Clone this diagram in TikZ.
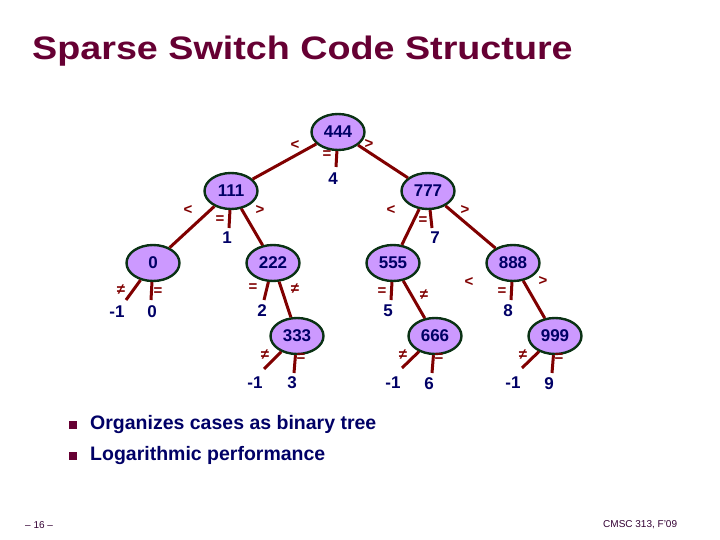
\documentclass[tikz,border=0pt]{standalone}
\usepackage{fontspec}
\setmainfont{Liberation Sans}
\newfontfamily\wf{Liberation Sans}[FakeStretch=1.16]
\usetikzlibrary{shapes.geometric}
\definecolor{titlec}{RGB}{102,0,51}
\definecolor{navy}{RGB}{0,0,102}
\definecolor{edgec}{RGB}{128,0,0}
\definecolor{nodefill}{RGB}{204,153,255}
\definecolor{nodeborder}{RGB}{10,50,20}
\definecolor{footc}{RGB}{51,0,51}
\tikzset{
  tn/.style={ellipse, draw=nodeborder, line width=2.4pt, fill=nodefill, minimum width=53pt, minimum height=36pt, inner sep=0pt, font=\bfseries\fontsize{17}{17}\selectfont, text=navy},
  edge/.style={draw=edgec, line width=3pt},
  sym/.style={text=edgec, font=\fontsize{15}{15}\selectfont\bfseries, inner sep=0pt},
  val/.style={text=navy, font=\bfseries\fontsize{17}{17}\selectfont, inner sep=0pt},
  bul/.style={fill=titlec, minimum size=8.5pt, inner sep=0pt},
  btext/.style={anchor=west, text=navy, font=\bfseries\fontsize{19.5}{20}\selectfont, inner sep=0pt},
}
\begin{document}
\begin{tikzpicture}[x=1pt,y=-1pt]
\useasboundingbox (0,0) rectangle (720,540);
\node[anchor=base west, text=titlec, font=\wf\bfseries\fontsize{32.5}{34}\selectfont, inner sep=0pt] (title) at (32,60) {Sparse Switch Code Structure};
% coordinates for free stem ends
\coordinate (s4) at (336,167);
\coordinate (s1) at (229,228);
\coordinate (s7) at (432,228);
\coordinate (s0n) at (126,300);
\coordinate (s0e) at (151,300);
\coordinate (s2) at (264,300);
\coordinate (s3n) at (264,369);
\coordinate (s3e) at (294,373);
\coordinate (s5) at (391,300);
\coordinate (s6n) at (402,368);
\coordinate (s6e) at (432,373);
\coordinate (s8) at (511,300);
\coordinate (s9n) at (522,368);
\coordinate (s9e) at (552,373);
% node centres
\path (338,132) coordinate (p444) (231,191) coordinate (p111) (428,191) coordinate (p777)
  (153,263) coordinate (p0) (273,263) coordinate (p222) (393,263) coordinate (p555)
  (513,263) coordinate (p888) (297,336) coordinate (p333) (435,336) coordinate (p666)
  (555,336) coordinate (p999);
% tree nodes
\node[tn] (n444) at (p444) {444};
\node[tn] (n111) at (p111) {111};
\node[tn] (n777) at (p777) {777};
\node[tn] (n0) at (p0) {0};
\node[tn] (n222) at (p222) {222};
\node[tn] (n555) at (p555) {555};
\node[tn] (n888) at (p888) {888};
\node[tn] (n333) at (p333) {333};
\node[tn] (n666) at (p666) {666};
\node[tn] (n999) at (p999) {999};
% edges
\draw[edge] (n444) -- (n111);
\draw[edge] (n444) -- (n777);
\draw[edge] (n111) -- (n0);
\draw[edge] (n111) -- (n222);
\draw[edge] (n777) -- (n555);
\draw[edge] (n777) -- (n888);
\draw[edge] (n222) -- (n333);
\draw[edge] (n555) -- (n666);
\draw[edge] (n888) -- (n999);
\draw[edge] (n444) -- (s4);
\draw[edge] (n111) -- (s1);
\draw[edge] (n777) -- (s7);
\draw[edge] (n0) -- (s0n);
\draw[edge] (n0) -- (s0e);
\draw[edge] (n222) -- (s2);
\draw[edge] (n333) -- (s3n);
\draw[edge] (n333) -- (s3e);
\draw[edge] (n555) -- (s5);
\draw[edge] (n666) -- (s6n);
\draw[edge] (n666) -- (s6e);
\draw[edge] (n888) -- (s8);
\draw[edge] (n999) -- (s9n);
\draw[edge] (n999) -- (s9e);
% symbol labels
\node[sym] (l444a) at (295,145) {<};
\node[sym] (l444b) at (369,144) {>};
\node[sym] (l444c) at (327,155) {=};
\node[sym] (l111a) at (188,210) {<};
\node[sym] (l111b) at (260,210) {>};
\node[sym] (l111c) at (220,220) {=};
\node[sym] (l777a) at (391,210) {<};
\node[sym] (l777b) at (465,210) {>};
\node[sym] (l777c) at (423,221) {=};
\node[sym] (l0a) at (121,290) {≠};
\node[sym] (l0b) at (158,292) {=};
\node[sym] (l222a) at (253,288) {=};
\node[sym] (l222b) at (295,289) {≠};
\node[sym] (l333a) at (265,355) {≠};
\node[sym] (l333b) at (301,358) {=};
\node[sym] (l555a) at (382,292) {=};
\node[sym] (l555b) at (424,295) {≠};
\node[sym] (l666a) at (403,355) {≠};
\node[sym] (l666b) at (439,358) {=};
\node[sym] (l888a) at (469,282) {<};
\node[sym] (l888b) at (543,281) {>};
\node[sym] (l888c) at (502,292) {=};
\node[sym] (l999a) at (523,355) {≠};
\node[sym] (l999b) at (559,358) {=};
% value labels
\node[val] (v4) at (333,179) {4};
\node[val] (v1) at (227,238) {1};
\node[val] (v7) at (435,238) {7};
\node[val] (v0m) at (117,312) {-1};
\node[val] (v0) at (152,312) {0};
\node[val] (v2) at (262,311) {2};
\node[val] (v3m) at (255,383) {-1};
\node[val] (v3) at (292,383) {3};
\node[val] (v5) at (388,311) {5};
\node[val] (v6m) at (393,383) {-1};
\node[val] (v6) at (429,384) {6};
\node[val] (v8) at (508,311) {8};
\node[val] (v9m) at (513,383) {-1};
\node[val] (v9) at (549,384) {9};
% bullets
\node[bul] (b1) at (73,425) {};
\node[bul] (b2) at (73,456) {};
\node[btext] (t1) at (90,424) {Organizes cases as binary tree};
\node[btext] (t2) at (90,455) {Logarithmic performance};
% footer
\node[anchor=west, text=footc, font=\fontsize{10}{10}\selectfont, inner sep=0pt] (f1) at (25,525) {– 16 –};
\node[anchor=west, text=footc, font=\fontsize{10}{10}\selectfont, inner sep=0pt] (f2) at (603,525) {CMSC 313, F’09};
\end{tikzpicture}
\end{document}
